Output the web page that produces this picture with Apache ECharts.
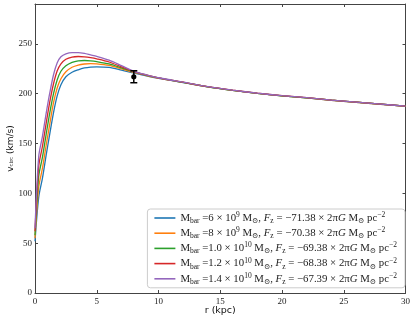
<!DOCTYPE html>
<html>
<head>
<meta charset="utf-8">
<script src="https://cdn.jsdelivr.net/npm/echarts@6/dist/echarts.min.js"></script>
<style>
  html, body { margin: 0; padding: 0; background: #fff; }
  #main { width: 415px; height: 324px; }
</style>
</head>
<body>
<div id="main"></div>
<script>
    // radius grid (kpc)
    var radius = [0, 0.3, 0.6, 0.9, 1.2, 1.5, 1.8, 2.1, 2.5, 3, 3.5, 4, 4.5, 5, 6, 7, 8, 9, 10, 12, 14, 16, 18, 20, 22, 24, 26, 28, 30];

    // rotation curves (km/s)
    var vBar6e9 = [52, 96, 115, 138, 160, 181, 198, 209, 217, 221.5, 224, 225.8, 226.7, 227, 226.3, 223.7, 220.8, 218, 215.5, 211.2, 206.8, 203.3, 200.3, 197.8, 195.8, 193.4, 191.4, 189.4, 187.4];
    var vBar8e9 = [55, 106, 125, 148, 170, 191, 206, 215, 222, 226.5, 228.7, 229.8, 230.2, 230, 228.3, 224.9, 221.3, 218.3, 215.6, 211.3, 206.9, 203.4, 200.4, 197.9, 195.9, 193.4, 191.4, 189.4, 187.4];
    var vBar1e10 = [58, 117, 136, 159, 181, 200, 214, 222.5, 228, 231.5, 233, 233.3, 233, 232.2, 229.8, 225.9, 221.8, 218.6, 215.8, 211.4, 206.9, 203.4, 200.4, 197.9, 195.9, 193.5, 191.5, 189.5, 187.5];
    var vBar12e9 = [62, 127, 147, 170, 192, 210, 223, 230, 234.5, 236.8, 237.3, 237, 236.2, 235, 231.8, 227, 222.2, 218.8, 215.9, 211.5, 207, 203.5, 200.5, 198, 196, 193.5, 191.5, 189.5, 187.5];
    var vBar14e9 = [65, 137, 157, 180, 201, 219, 231, 237, 240, 241.3, 241.3, 240.5, 239, 237.5, 233.7, 228.2, 222.5, 219, 216, 211.5, 207, 203.5, 200.5, 198, 196, 193.5, 191.5, 189.5, 187.5];

    var seriesNames = ['6e9', '8e9', '1.0e10', '1.2e10', '1.4e10'];
    var legendLabels = [
        'M{sub|bar} =6 × 10{sup|9} M{sub|⊙}, {it|F}{sub|z} = −71.38 × 2π{it|G} M{sub|⊙} pc{sup|−2}',
        'M{sub|bar} =8 × 10{sup|9} M{sub|⊙}, {it|F}{sub|z} = −70.38 × 2π{it|G} M{sub|⊙} pc{sup|−2}',
        'M{sub|bar} =1.0 × 10{sup|10} M{sub|⊙}, {it|F}{sub|z} = −69.38 × 2π{it|G} M{sub|⊙} pc{sup|−2}',
        'M{sub|bar} =1.2 × 10{sup|10} M{sub|⊙}, {it|F}{sub|z} = −68.38 × 2π{it|G} M{sub|⊙} pc{sup|−2}',
        'M{sub|bar} =1.4 × 10{sup|10} M{sub|⊙}, {it|F}{sub|z} = −67.39 × 2π{it|G} M{sub|⊙} pc{sup|−2}'
    ];
    var colors = ['#1f77b4', '#ff7f0e', '#2ca02c', '#d62728', '#9467bd'];

    // observed point with error bar: [r, v, err]
    var obsPoint = [[8, 217, 6]];

    var curves = [vBar6e9, vBar8e9, vBar1e10, vBar12e9, vBar14e9];

    var serif = '"Liberation Serif", "DejaVu Serif", serif';
    var sans = '"DejaVu Sans", sans-serif';

    var myChart = echarts.init(document.getElementById('main'));

    var series = curves.map(function (vals, i) {
        return {
            name: seriesNames[i],
            type: 'line',
            data: radius.map(function (r, j) { return [r, vals[j]]; }),
            showSymbol: false,
            symbol: 'none',
            smooth: 0.3,
            lineStyle: { color: colors[i], width: 1.3 },
            itemStyle: { color: colors[i] },
            z: 2 + i
        };
    });

    series.push({
        name: 'obs',
        type: 'custom',
        data: obsPoint,
        z: 20,
        renderItem: function (params, api) {
            var r = api.value(0), v = api.value(1), e = api.value(2);
            var top = api.coord([r, v + e]);
            var bot = api.coord([r, v - e]);
            var mid = api.coord([r, v]);
            var cap = 3.5;
            var st = { stroke: '#000', lineWidth: 1.5 };
            return {
                type: 'group',
                children: [
                    { type: 'line', shape: { x1: top[0], y1: top[1], x2: bot[0], y2: bot[1] }, style: st },
                    { type: 'line', shape: { x1: top[0] - cap, y1: top[1], x2: top[0] + cap, y2: top[1] }, style: st },
                    { type: 'line', shape: { x1: bot[0] - cap, y1: bot[1], x2: bot[0] + cap, y2: bot[1] }, style: st },
                    { type: 'circle', shape: { cx: mid[0], cy: mid[1], r: 2.6 }, style: { fill: '#000' } }
                ]
            };
        }
    });

    var axisLineStyle = { color: '#444', width: 1 };

    var option = {
        animation: false,
        backgroundColor: '#fff',
        grid: { left: 35, right: 9.5, top: 4, bottom: 31, containLabel: false, outerBoundsMode: 'none' },
        legend: {
            orient: 'vertical',
            right: 10,
            top: 209,
            data: seriesNames,
            icon: 'rect',
            itemWidth: 21,
            itemHeight: 1.6,
            itemGap: 1.2,
            padding: [2, 8, 2, 7],
            backgroundColor: '#fff',
            borderColor: '#ccc',
            borderWidth: 1,
            borderRadius: 3,
            formatter: function (name) {
                return legendLabels[seriesNames.indexOf(name)];
            },
            textStyle: {
                color: '#222',
                fontFamily: serif,
                fontSize: 10.8,
                lineHeight: 14,
                rich: {
                    sub: { fontFamily: serif, fontSize: 7.5, lineHeight: 9, verticalAlign: 'bottom', color: '#222' },
                    sup: { fontFamily: serif, fontSize: 7.5, lineHeight: 9, verticalAlign: 'top', color: '#222' },
                    it: { fontFamily: serif, fontSize: 10.8, fontStyle: 'italic', color: '#222' }
                }
            }
        },
        xAxis: [{
            type: 'value',
            min: 0,
            max: 30,
            interval: 5,
            name: 'r (kpc)',
            nameLocation: 'middle',
            nameGap: 12.5,
            nameMoveOverlap: false,
            nameTextStyle: { fontFamily: sans, fontSize: 9.5, color: '#111' },
            axisLine: { show: true, onZero: false, lineStyle: axisLineStyle },
            axisTick: { show: true, inside: true, length: 3, lineStyle: axisLineStyle },
            axisLabel: { fontFamily: serif, fontSize: 9, color: '#222', margin: 4 },
            splitLine: { show: false }
        }, {
            type: 'value',
            position: 'top',
            min: 0,
            max: 30,
            interval: 5,
            axisLine: { show: true, onZero: false, lineStyle: axisLineStyle },
            axisTick: { show: true, inside: true, length: 3, lineStyle: axisLineStyle },
            axisLabel: { show: false },
            splitLine: { show: false }
        }],
        yAxis: [{
            type: 'value',
            min: 0,
            max: 290,
            interval: 50,
            name: 'v{sub|circ} (km/s)',
            nameLocation: 'middle',
            nameGap: 20,
            nameMoveOverlap: false,
            nameTextStyle: {
                fontFamily: sans, fontSize: 9, color: '#111',
                rich: { sub: { fontFamily: serif, fontSize: 6.5, lineHeight: 8, verticalAlign: 'bottom', color: '#111' } }
            },
            axisLine: { show: true, onZero: false, lineStyle: axisLineStyle },
            axisTick: { show: true, inside: true, length: 3, lineStyle: axisLineStyle },
            axisLabel: { fontFamily: serif, fontSize: 9, color: '#222', margin: 3, showMaxLabel: false },
            splitLine: { show: false }
        }, {
            type: 'value',
            position: 'right',
            min: 0,
            max: 290,
            interval: 50,
            axisLine: { show: true, onZero: false, lineStyle: axisLineStyle },
            axisTick: { show: true, inside: true, length: 3, lineStyle: axisLineStyle },
            axisLabel: { show: false },
            splitLine: { show: false }
        }],
        series: series
    };

    myChart.setOption(option);
</script>
</body>
</html>
